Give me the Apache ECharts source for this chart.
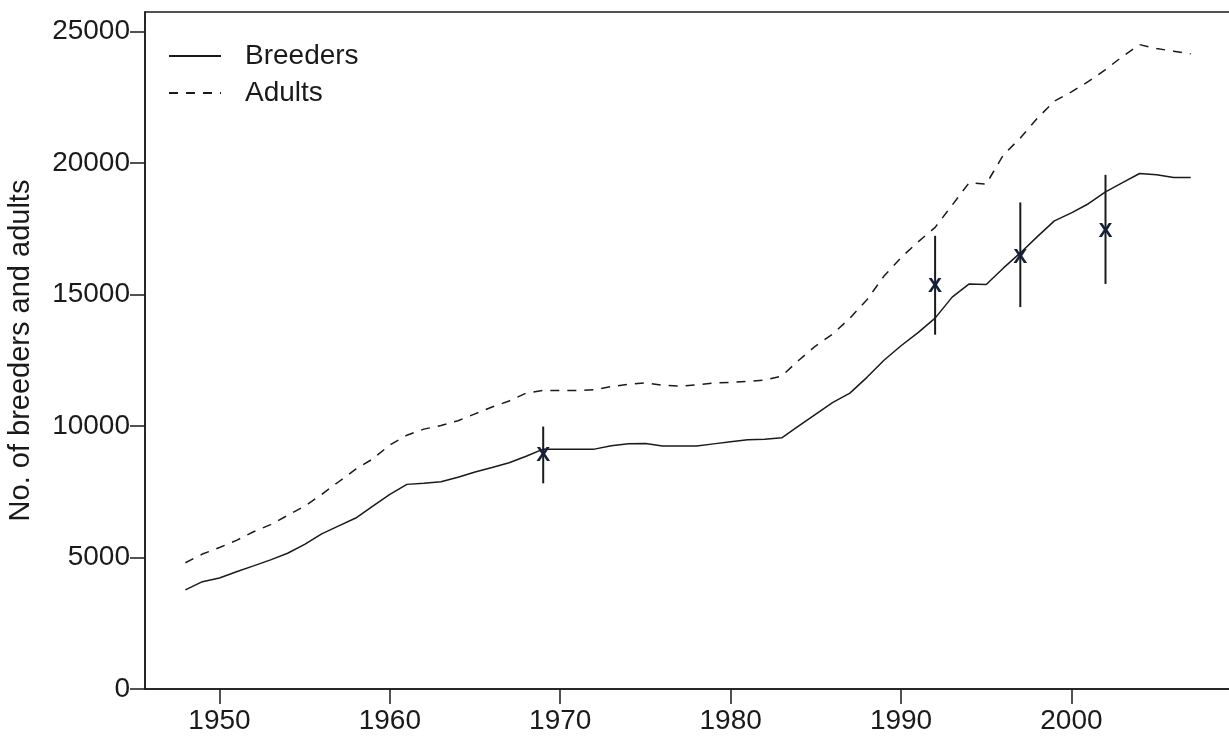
<!DOCTYPE html>
<html>
<head>
<meta charset="utf-8">
<script src="https://cdn.jsdelivr.net/npm/echarts@6/dist/echarts.min.js"></script>
<style>
html,body{margin:0;padding:0;background:#fff;}
#chart{width:1229px;height:738px;}
</style>
</head>
<body>
<div id="chart"></div>
<script>
const years = [1948,1949,1950,1951,1952,1953,1954,1955,1956,1957,1958,1959,1960,1961,1962,1963,1964,1965,1966,1967,1968,1969,1970,1971,1972,1973,1974,1975,1976,1977,1978,1979,1980,1981,1982,1983,1984,1985,1986,1987,1988,1989,1990,1991,1992,1993,1994,1995,1996,1997,1998,1999,2000,2001,2002,2003,2004,2005,2006,2007];
const breeders = [3770,4080,4220,4460,4680,4910,5160,5500,5900,6200,6500,6950,7400,7780,7820,7880,8050,8250,8420,8600,8850,9120,9120,9120,9120,9250,9320,9330,9240,9240,9240,9320,9400,9480,9500,9550,10000,10450,10900,11250,11850,12500,13050,13550,14100,14900,15400,15380,16000,16580,17200,17800,18100,18450,18900,19250,19600,19550,19450,19450];
const adults = [4800,5130,5380,5650,5980,6250,6600,6950,7400,7880,8360,8750,9280,9650,9880,10020,10200,10460,10720,10950,11250,11350,11350,11350,11380,11500,11580,11640,11550,11520,11560,11630,11660,11700,11740,11900,12500,13050,13500,14100,14800,15700,16400,17000,17550,18400,19250,19200,20300,20950,21700,22350,22700,23100,23550,24050,24500,24350,24250,24150];
const estYears = [1969,1992,1997,2002];
const estValues = [8900,15300,16420,17390];
const estLow = [7820,13470,14520,15400];
const estHigh = [9980,17230,18500,19550];
const xTicks = [1950,1960,1970,1980,1990,2000];
const yTicks = [0,5000,10000,15000,20000,25000];

const FONT = 'Liberation Sans, Arial, sans-serif';
const INK = '#1a1a1a';

const chart = echarts.init(document.getElementById('chart'), null, {renderer:'canvas'});
chart.setOption({
  animation:false,
  backgroundColor:'#fff',
  grid:{left:145, top:12, width:1090, height:677, outerBoundsMode:'none', containLabel:false,
        show:true, borderColor:INK, borderWidth:1.5, backgroundColor:'transparent'},
  legend:{
    orient:'vertical', left:163, top:37, itemWidth:52, itemHeight:14, itemGap:9,
    itemStyle:{opacity:0},
    textStyle:{fontFamily:FONT, fontSize:28, color:INK, padding:[0,0,0,19]},
    data:['Breeders','Adults']
  },
  xAxis:{
    type:'value', min:1945.63, max:2009.6,
    splitLine:{show:false},
    axisLine:{show:true, onZero:false, lineStyle:{color:INK, width:1.5}},
    axisTick:{show:true, length:15, customValues:xTicks, lineStyle:{color:INK, width:1.5}},
    axisLabel:{customValues:xTicks, fontFamily:FONT, fontSize:28, color:INK, margin:18, formatter:v=>String(v)}
  },
  yAxis:{
    type:'value', min:0, max:25740,
    name:'No. of breeders and adults', nameLocation:'middle', nameGap:110, nameRotate:90,
    nameTextStyle:{fontFamily:FONT, fontSize:29, color:INK},
    splitLine:{show:false},
    axisLine:{show:true, onZero:false, lineStyle:{color:INK, width:1.5}},
    axisTick:{show:true, length:15, customValues:yTicks, lineStyle:{color:INK, width:1.5}},
    axisLabel:{customValues:yTicks, fontFamily:FONT, fontSize:28, color:INK, margin:15, formatter:v=>String(v)}
  },
  series:[
    {name:'Breeders', type:'line', symbol:'none', data:years.map((y,i)=>[y,breeders[i]]),
     lineStyle:{color:INK, width:1.5, type:'solid'}, itemStyle:{color:INK}},
    {name:'Adults', type:'line', symbol:'none', data:years.map((y,i)=>[y,adults[i]]),
     lineStyle:{color:INK, width:1.5, type:[9,8]}, itemStyle:{color:INK}},
    {name:'Estimates', type:'custom', data:estYears.map((y,i)=>[y,estValues[i],estLow[i],estHigh[i]]),
     renderItem:function(params, api){
       const x = api.value(0);
       const c = api.coord([x, api.value(1)]);
       const lo = api.coord([x, api.value(2)]);
       const hi = api.coord([x, api.value(3)]);
       return {type:'group', children:[
         {type:'line', shape:{x1:lo[0], y1:lo[1], x2:hi[0], y2:hi[1]}, style:{stroke:INK, lineWidth:2}},
         {type:'text', x:c[0], y:c[1], style:{text:'X', fontFamily:FONT, fontSize:21, fontWeight:'bold', fill:'#14203a', align:'center', verticalAlign:'middle'}}
       ]};
     }, z:5}
  ]
});
</script>
</body>
</html>
